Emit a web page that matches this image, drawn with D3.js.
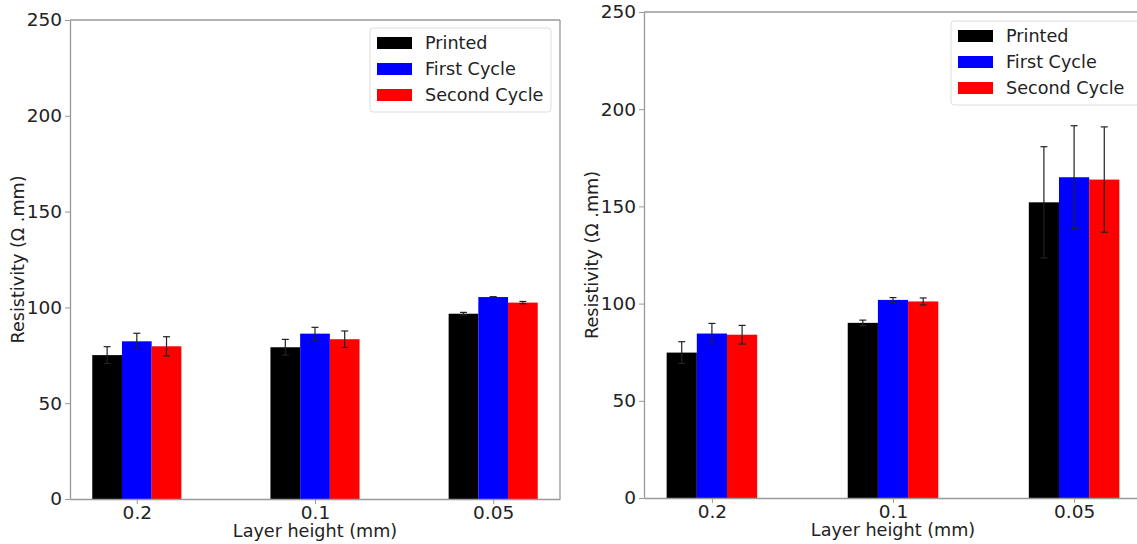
<!DOCTYPE html>
<html>
<head>
<meta charset="utf-8">
<script src="https://cdn.jsdelivr.net/npm/d3@7"></script>
<style>
  body { margin: 0; background: #fff; }
  svg text { font-family: "DejaVu Sans", sans-serif; fill: #222; }
</style>
</head>
<body>
<svg id="drawing_region"></svg>
<script>
// categories and series
const categories = [ '0.2', '0.1', '0.05' ];
const series_names = [ 'Printed', 'First Cycle', 'Second Cycle' ];
const series_colors = [ '#000000', '#0000ff', '#ff0000' ];
const y_ticks = [ 0, 50, 100, 150, 200, 250 ];

// left panel values (mean, error)
const left_printed = [ 75.1, 79.2, 96.7 ];
const left_printed_err = [ 4.4, 4.1, 0.7 ];
const left_first = [ 82.3, 86.3, 105.4 ];
const left_first_err = [ 4.2, 3.3, 0.2 ];
const left_second = [ 79.7, 83.4, 102.5 ];
const left_second_err = [ 5.0, 4.3, 0.6 ];

// right panel values (mean, error)
const right_printed = [ 74.8, 90.1, 152.1 ];
const right_printed_err = [ 5.6, 1.4, 28.6 ];
const right_first = [ 84.6, 101.9, 165.0 ];
const right_first_err = [ 5.2, 1.2, 26.5 ];
const right_second = [ 84.0, 101.1, 163.8 ];
const right_second_err = [ 4.8, 1.8, 27.1 ];

const W = 1137, H = 544;
const tick_font = 18.5;
const label_font = 17.6;

const svg = d3.select( '#drawing_region' )
    .attr( 'width', W )
    .attr( 'height', H );

function make_series( values, errs ) {
    return values.map( ( v, i ) => ( [ v, errs[i] ] ) );
}

class GroupedBarChart {

    constructor( config, data ) {
        this.config = config;
        this.data = data;
        this.init();
    }

    init() {
        let self = this;
        const c = self.config;

        self.chart = svg.append( 'g' );

        self.xscale = d3.scaleLinear()
            .domain( [ -0.375, categories.length - 1 + 0.375 ] )
            .range( [ c.left, c.right ] );

        self.yscale = d3.scaleLinear()
            .domain( [ 0, 250 ] )
            .range( [ c.bottom, c.top ] );

        self.bar_w = 1 / 6;
    }

    render() {
        let self = this;
        const c = self.config;
        const xs = self.xscale, ys = self.yscale;
        const bw = xs( self.bar_w ) - xs( 0 );

        // bars
        self.data.forEach( ( s, si ) => {
            const off = ( si - 1 ) * self.bar_w;
            const g = self.chart.append( 'g' );
            g.selectAll( 'rect' )
                .data( s )
                .join( 'rect' )
                .attr( 'x', ( d, i ) => xs( i + off - self.bar_w / 2 ) )
                .attr( 'y', d => ys( d[0] ) )
                .attr( 'width', bw )
                .attr( 'height', d => ys( 0 ) - ys( d[0] ) )
                .attr( 'fill', series_colors[si] );

            // error bars
            const eb = g.selectAll( 'g.err' )
                .data( s )
                .join( 'g' )
                .attr( 'class', 'err' )
                .attr( 'stroke', '#222' )
                .attr( 'stroke-width', 1.2 );
            eb.append( 'line' )
                .attr( 'x1', ( d, i ) => xs( i + off ) )
                .attr( 'x2', ( d, i ) => xs( i + off ) )
                .attr( 'y1', d => ys( d[0] - d[1] ) )
                .attr( 'y2', d => ys( d[0] + d[1] ) );
            [ -1, 1 ].forEach( sign => {
                eb.append( 'line' )
                    .attr( 'x1', ( d, i ) => xs( i + off ) - 3.5 )
                    .attr( 'x2', ( d, i ) => xs( i + off ) + 3.5 )
                    .attr( 'y1', d => ys( d[0] + sign * d[1] ) )
                    .attr( 'y2', d => ys( d[0] + sign * d[1] ) );
            } );
        } );

        // frame
        const spine = '#999';
        const fr = self.chart.append( 'g' ).attr( 'stroke', spine ).attr( 'stroke-width', 1.3 );
        fr.append( 'line' ).attr( 'x1', c.left ).attr( 'x2', c.right ).attr( 'y1', c.top ).attr( 'y2', c.top );
        fr.append( 'line' ).attr( 'x1', c.right ).attr( 'x2', c.right ).attr( 'y1', c.top ).attr( 'y2', c.bottom );

        // axes
        const xaxis = d3.axisBottom( xs )
            .tickValues( d3.range( categories.length ) )
            .tickFormat( i => categories[i] )
            .tickSize( 5 )
            .tickPadding( 2 )
            .tickSizeOuter( 0 );
        const yaxis = d3.axisLeft( ys )
            .tickValues( y_ticks )
            .tickSize( 5 )
            .tickPadding( 3 )
            .tickSizeOuter( 0 );

        const xg = self.chart.append( 'g' )
            .attr( 'transform', `translate(0, ${c.bottom})` )
            .call( xaxis );
        const yg = self.chart.append( 'g' )
            .attr( 'transform', `translate(${c.left}, 0)` )
            .call( yaxis );
        [ xg, yg ].forEach( g => {
            g.select( '.domain' ).attr( 'stroke', spine ).attr( 'stroke-width', 1.3 );
            g.selectAll( '.tick line' ).attr( 'stroke', spine );
            g.selectAll( '.tick text' ).attr( 'font-size', tick_font ).attr( 'fill', '#222' );
        } );

        // axis labels
        self.chart.append( 'text' )
            .attr( 'x', xs( 1 ) )
            .attr( 'y', c.bottom + 38 )
            .attr( 'text-anchor', 'middle' )
            .attr( 'font-size', label_font )
            .text( 'Layer height (mm)' );

        self.chart.append( 'text' )
            .attr( 'transform', `translate(${c.ylabel_x}, ${( c.top + c.bottom ) / 2}) rotate(-90)` )
            .attr( 'text-anchor', 'middle' )
            .attr( 'dominant-baseline', 'central' )
            .attr( 'font-size', label_font )
            .text( 'Resistivity (Ω .mm)' );

        // legend
        const lg = self.chart.append( 'g' )
            .attr( 'transform', `translate(${c.legend.x}, ${c.legend.y})` );
        lg.append( 'rect' )
            .attr( 'width', c.legend.w )
            .attr( 'height', 84 )
            .attr( 'rx', 3 )
            .attr( 'fill', '#fff' )
            .attr( 'fill-opacity', 0.8 )
            .attr( 'stroke', '#ddd' );
        const item = lg.selectAll( 'g.item' )
            .data( series_names )
            .join( 'g' )
            .attr( 'transform', ( d, i ) => `translate(0, ${15 + i * 26})` );
        item.append( 'rect' )
            .attr( 'x', 7 )
            .attr( 'y', -6 )
            .attr( 'width', 35 )
            .attr( 'height', 12 )
            .attr( 'fill', ( d, i ) => series_colors[i] );
        item.append( 'text' )
            .attr( 'x', 55 )
            .attr( 'dy', '0.36em' )
            .attr( 'font-size', label_font )
            .text( d => d );
    }
}

const left_chart = new GroupedBarChart( {
    left: 70, right: 560, top: 20, bottom: 499, ylabel_x: 18,
    legend: { x: 370, y: 28, w: 181 }
}, [
    make_series( left_printed, left_printed_err ),
    make_series( left_first, left_first_err ),
    make_series( left_second, left_second_err )
] );
left_chart.render();

const right_chart = new GroupedBarChart( {
    left: 644, right: 1142, top: 12, bottom: 498, ylabel_x: 592,
    legend: { x: 951, y: 21, w: 190 }
}, [
    make_series( right_printed, right_printed_err ),
    make_series( right_first, right_first_err ),
    make_series( right_second, right_second_err )
] );
right_chart.render();
</script>
</body>
</html>
